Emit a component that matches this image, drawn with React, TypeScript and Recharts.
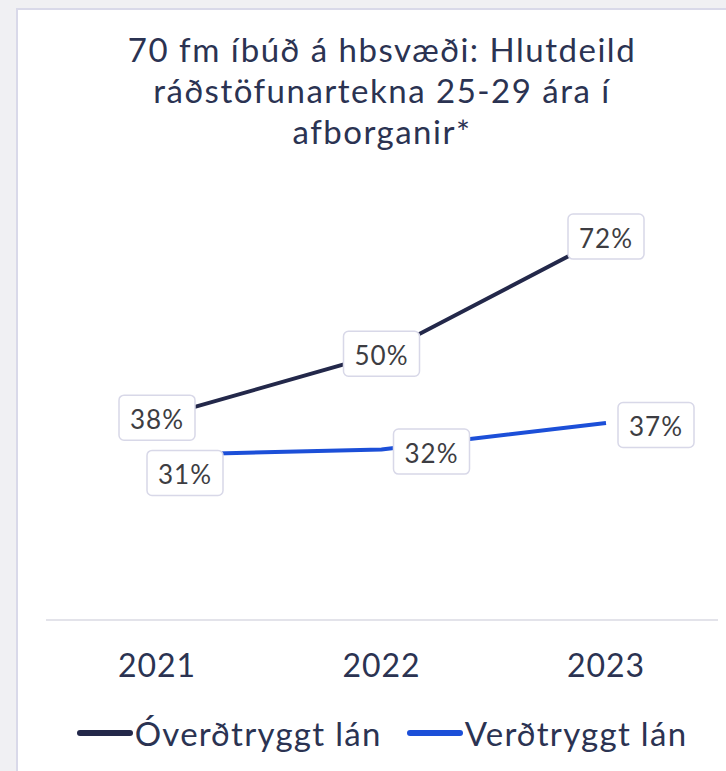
import React from "react";
import { LineChart, Line, XAxis, YAxis, LabelList, Legend } from "recharts";

const years = ["2021", "2022", "2023"];
const overdtryggt = [38, 50, 72];
const verdtryggt = [31, 32, 37];

const seriesNames = ["Óverðtryggt lán", "Verðtryggt lán"];
const colors = ["#23284a", "#1c4fd8"];

const data = years.map((year, i) => ({
  year,
  overdtryggt: overdtryggt[i],
  verdtryggt: verdtryggt[i],
}));

const font = "Lato, 'Noto Sans', sans-serif";
const textColor = "#2b3352";

function BoxLabel(props: any) {
  const { x, y, value, index, shift } = props;
  const off = shift ? (index === 0 ? [28, 18] : [50, 2]) : [0, 0];
  const cx = Number(x) + off[0];
  const cy = Number(y) + off[1];
  const w = 76;
  const h = 45;
  return (
    <g>
      <rect x={cx - w / 2} y={cy - h / 2} width={w} height={h} rx={5} fill="#fff" stroke="#d8d8e8" strokeWidth={1.5} />
      <text
        x={cx}
        y={cy + 1}
        textAnchor="middle"
        dominantBaseline="central"
        fontSize={26}
        letterSpacing={1}
        fill="#3d3d42"
        fontFamily={font}
      >
        {`${value}%`}
      </text>
    </g>
  );
}

function LegendContent() {
  return (
    <div style={{ display: "flex", justifyContent: "center", alignItems: "center", height: 50, gap: 25 }}>
      {seriesNames.map((name, i) => (
        <div key={name} style={{ display: "flex", alignItems: "center" }}>
          <div style={{ width: 56, height: 6, borderRadius: 3, background: colors[i], marginRight: 2 }} />
          <span style={{ fontSize: 33, letterSpacing: 1.3, color: textColor, fontFamily: font }}>{name}</span>
        </div>
      ))}
    </div>
  );
}

export default function App() {
  return (
    <div style={{ position: "absolute", left: 0, top: 0, width: 726, height: 771, background: "#f0f0f3", overflow: "hidden" }}>
      <div
        style={{
          position: "absolute",
          left: 16,
          top: 8,
          right: -10,
          bottom: -10,
          background: "#fff",
          borderLeft: "2px solid #d9d9e9",
          borderTop: "2px solid #d9d9e9",
        }}
      />
      <div
        style={{
          position: "absolute",
          left: 46,
          width: 672,
          top: 29,
          textAlign: "center",
          fontSize: 33,
          letterSpacing: 1.5,
          lineHeight: "41px",
          color: textColor,
          fontFamily: font,
        }}
      >
        70 fm íbúð á hbsvæði: Hlutdeild
        <br />
        ráðstöfunartekna 25-29 ára í
        <br />
        afborganir*
      </div>
      <div style={{ position: "absolute", left: 0, top: 0 }}>
        <LineChart width={726} height={771} data={data} margin={{ top: 194, right: 8, left: 46, bottom: 13 }}>
          <XAxis
            dataKey="year"
            height={88}
            padding={{ left: 111, right: 112 }}
            axisLine={{ stroke: "#e3e3ea", strokeWidth: 2 }}
            tickLine={false}
            tickMargin={28}
            tick={{ fontSize: 32, letterSpacing: 1, fill: textColor, fontFamily: font }}
          />
          <YAxis hide domain={[0, 80]} />
          <Legend verticalAlign="bottom" height={50} content={<LegendContent />} />
          <Line dataKey="overdtryggt" name={seriesNames[0]} stroke={colors[0]} strokeWidth={4} dot={false} isAnimationActive={false}>
            <LabelList dataKey="overdtryggt" content={<BoxLabel />} />
          </Line>
          <Line dataKey="verdtryggt" name={seriesNames[1]} stroke={colors[1]} strokeWidth={4} dot={false} isAnimationActive={false}>
            <LabelList dataKey="verdtryggt" content={<BoxLabel shift />} />
          </Line>
        </LineChart>
      </div>
    </div>
  );
}
